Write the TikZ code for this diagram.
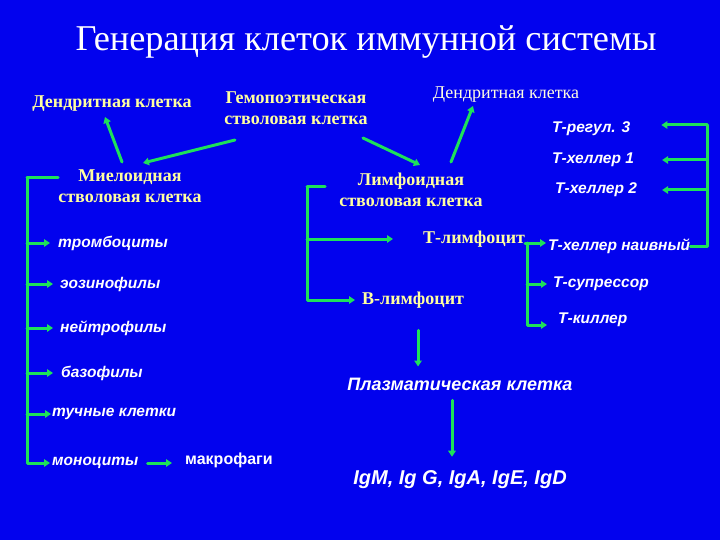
\documentclass[tikz,border=0pt]{standalone}
\usepackage{fontspec}
\setmainfont{Liberation Serif}
\setsansfont{Liberation Sans}
\usetikzlibrary{arrows.meta}

\definecolor{slideblue}{RGB}{2,2,238}
\definecolor{arrgreen}{RGB}{30,225,90}
\definecolor{celyellow}{RGB}{255,255,160}

\tikzset{
  ylab/.style={text=celyellow, font=\bfseries\fontsize{18}{21}\selectfont, align=center, inner sep=0pt},
  wlab/.style={text=white, font=\sffamily\bfseries\itshape\fontsize{15.5}{18}\selectfont, inner sep=0pt, anchor=west},
  gline/.style={draw=arrgreen, line width=3pt},
  garr/.style={gline, -{Triangle[length=6pt,width=7.5pt]}},
}

\begin{document}
\begin{tikzpicture}[x=1pt, y=-1pt, line join=round, line cap=round]
      \fill[slideblue] (0,0) rectangle (720,540);

      % title
      \node[text=white, font=\fontsize{36.3}{40}\selectfont, inner sep=0pt] (title) at (366,42) {Генерация клеток иммунной системы};

      % stem cells
      \node[ylab] (ldend) at (112,104) {Дендритная клетка};
      \node[ylab] (hsc) at (296,108) {Гемопоэтическая\\стволовая клетка};
      \node[text=white!88!yellow, font=\fontsize{18}{21}\selectfont, inner sep=0pt] (rdend) at (506,95) {Дендритная клетка};
      \node[ylab] (myel) at (130,186) {Миелоидная\\стволовая клетка};
      \node[ylab] (lymph) at (411,190) {Лимфоидная\\стволовая клетка};

      % myeloid line
      \node[wlab] (tromb) at (58,243) {тромбоциты};
      \node[wlab] (eos) at (60,284) {эозинофилы};
      \node[wlab] (neut) at (60,328) {нейтрофилы};
      \node[wlab] (baso) at (61,373) {базофилы};
      \node[wlab] (mast) at (52,414) {тучные клетки};
      \node[wlab] (mono) at (52,463) {моноциты};
      \node[wlab, font=\sffamily\bfseries\fontsize{16}{18}\selectfont] (macro) at (185,460) {макрофаги};

      % lymphoid line
      \node[ylab, anchor=west] (tlym) at (423,239) {Т-лимфоцит};
      \node[ylab, anchor=west] (blym) at (362,300) {В-лимфоцит};
      \node[wlab] (treg) at (552,129) {Т-регул. 3};
      \node[wlab] (th1) at (552,160) {Т-хеллер 1};
      \node[wlab] (th2) at (555,190) {Т-хеллер 2};
      \node[wlab] (naive) at (548,246) {Т-хеллер наивный};
      \node[wlab] (supp) at (553,284) {Т-супрессор};
      \node[wlab] (kill) at (558,320) {Т-киллер};
      \node[wlab, anchor=center, font=\sffamily\bfseries\itshape\fontsize{18}{20}\selectfont] (plasma) at (460,384) {Плазматическая клетка};
      \node[wlab, anchor=center, font=\sffamily\bfseries\itshape\fontsize{20}{22}\selectfont] (ig) at (460,480) {IgM, Ig G, IgA, IgE, IgD};

      % diagonal arrows
      \draw[garr] ([xshift=-61pt,yshift=-32pt]hsc.center) -- ([xshift=13pt,yshift=23pt]myel.center);
      \draw[garr] ([xshift=-8pt,yshift=24pt]myel.center) -- ([xshift=-7pt,yshift=-13pt]ldend.center);
      \draw[garr] ([xshift=67pt,yshift=-30pt]hsc.center) -- ([xshift=9pt,yshift=25pt]lymph.center);
      \draw[garr] ([xshift=40pt,yshift=28pt]lymph.center) -- ([xshift=-33pt,yshift=-11pt]rdend.center);

      % myeloid bracket
      \coordinate (mytop) at (27,178);
      \draw[gline] ([yshift=8pt]myel.west) -- (mytop);
      \draw[garr, shorten >=2pt] (mytop) |- (mono.west);
      \draw[garr, shorten >=8pt] (mytop |- tromb.west) -- (tromb.west);
      \draw[garr, shorten >=7pt] (mytop |- eos.west) -- (eos.west);
      \draw[garr, shorten >=7pt] (mytop |- neut.west) -- (neut.west);
      \draw[garr, shorten >=8pt] (mytop |- baso.west) -- (baso.west);
      \draw[garr, shorten >=1pt] (mytop |- mast.west) -- (mast.west);
      \draw[garr, shorten <=9pt, shorten >=13pt] (mono.east) -- (mono.east -| macro.west);

      % lymphoid bracket
      \coordinate (lytop) at (307,187);
      \draw[gline] ([xshift=-14pt,yshift=3pt]lymph.west) -- (lytop);
      \draw[garr, shorten >=30pt] (lytop |- tlym.west) -- (tlym.west);
      \draw[garr, shorten >=7pt] (lytop) |- (blym.west);

      % T-lymphocyte bracket
      \coordinate (ttop) at (527,243);
      \draw[gline] ([yshift=-4pt]tlym.east) -- (ttop);
      \draw[garr, shorten >=2pt] (ttop) -- (ttop -| naive.west);
      \draw[garr, shorten >=6pt] (ttop |- supp.west) -- (supp.west);
      \draw[garr, shorten >=11pt] (ttop) |- ([yshift=-5pt]kill.west);

      % helper bracket
      \coordinate (rtop) at (707,125);
      \draw[gline] (naive.east) -| (rtop);
      \draw[garr, shorten >=31pt] (rtop) -- (rtop -| treg.east);
      \draw[garr, shorten >=28pt] (rtop |- th1.east) -- (th1.east);
      \draw[garr, shorten >=25pt] (rtop |- th2.east) -- (th2.east);

      % B-cell and plasma cell
      \draw[garr, shorten <=22pt, shorten >=11pt] ([xshift=5pt]blym.south) -- ([xshift=5pt]blym.south |- plasma.north);
      \draw[garr, shorten <=10pt, shorten >=14pt] ([xshift=-8pt]plasma.south) -- ([xshift=-8pt]plasma.south |- ig.north);
\end{tikzpicture}
\end{document}
